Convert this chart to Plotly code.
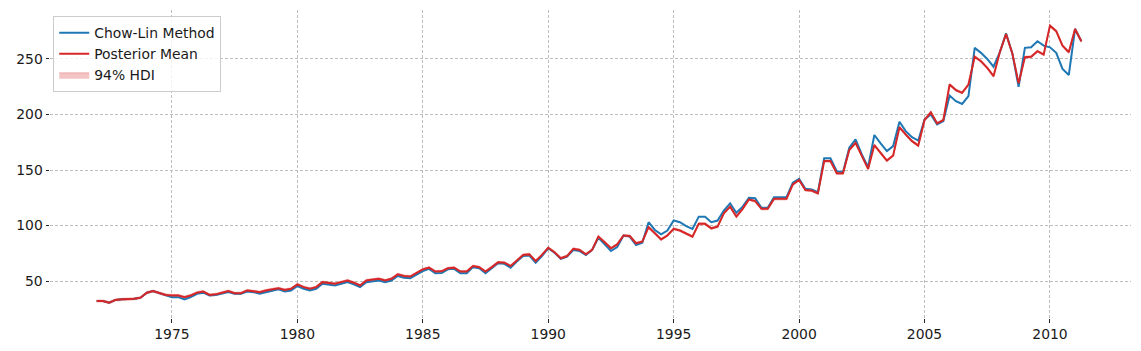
import plotly.graph_objects as go

start_year = 1972

# Posterior mean (red), quarterly 1972Q1 .. 2011Q2
posterior_mean = [
    32, 32, 30.5, 33,
    33.5, 33.5, 34, 35,
    39.5, 41, 39, 37.5,
    37, 37, 35.5, 37,
    39.5, 40.5, 37.5, 38,
    39.5, 41, 39, 39,
    41.5, 41, 40, 41.5,
    42.5, 43.5, 42, 43,
    47, 44.5, 43, 44.5,
    49, 48.5, 47.5, 49,
    50.5, 48.5, 46, 50.5,
    51, 52, 50.5, 52,
    56, 54.5, 54, 57,
    60.5, 62, 58.5, 58.7,
    61.5, 62, 58.5, 58.5,
    63.5, 62.5, 58.5, 62.5,
    66.8, 66.5, 63.5, 68.5,
    73.5, 74, 68, 73.5,
    80, 76, 70.5, 72.5,
    79, 78, 74, 78,
    90, 85, 79.5, 83,
    91, 90.5, 84, 85.5,
    98.5, 93, 87.5, 91,
    97, 95.5, 92.5, 90,
    101.5, 101.5, 97.5, 99,
    111, 117, 108, 115,
    123.5, 122, 115, 115,
    124, 124, 124, 137,
    141, 132, 131.5, 129,
    158, 158, 147, 147,
    168, 174.5, 162, 151,
    172.5, 165, 158.5, 163,
    188.5, 182, 176, 172,
    195, 202, 192, 195,
    227, 222, 219.5, 227,
    252, 248, 242, 234.5,
    256, 272.5, 255, 228,
    251.5, 252, 257, 254,
    280, 275, 262, 256,
    277, 266,
]

# Chow-Lin method (blue)
chow_lin = [
    32, 32, 30.5, 33,
    33.5, 33.5, 34, 35,
    39.5, 41, 39, 37.5,
    35.5, 35.5, 33.5, 35.5,
    38.5, 39.5, 37, 37.5,
    39, 40, 38.5, 38.5,
    40.5, 40, 38.5, 40,
    41.5, 42.5, 40.5, 41.5,
    45.5, 43, 41.5, 43,
    47.5, 47, 46, 47.5,
    49, 47, 44.5, 49,
    49.5, 50.5, 49, 50.5,
    54.5, 53, 52.5, 55.5,
    59, 61, 57, 57.2,
    60.5, 61, 57, 57,
    62.5, 61.5, 57, 61.5,
    66, 65.5, 62, 67.5,
    72.5, 73, 66.5, 72.5,
    79.5, 75.5, 70, 72,
    78, 77, 73.5, 78,
    89, 83, 77, 80.5,
    91, 90, 82.5, 84.5,
    103, 96, 92, 95.5,
    104.5, 103, 99.5, 97,
    108, 108, 103, 104.5,
    113.5, 120, 111.5, 117,
    125, 124.5, 116, 116,
    125.5, 125.5, 125.5, 138.5,
    142, 133, 132.5, 130,
    160.5, 160.5, 149, 148,
    170, 177.5, 164, 152.5,
    181.5, 174, 167, 171.5,
    193.5, 185, 179.5, 176.5,
    195.5, 200, 191, 194,
    217, 212, 209.5, 216.5,
    260, 255.5, 250, 243,
    256, 273, 255, 225,
    260, 260.5, 266, 262,
    260.5, 255.5, 241, 235.5,
    277, 266,
]

# 94% HDI bounds
hdi_lower = [
    31, 31, 29.5, 32,
    32.5, 32.5, 33, 34,
    38.5, 40, 38, 36.5,
    36, 36, 34.5, 36,
    38.5, 39.5, 36.5, 37,
    38.5, 40, 38, 38,
    40.5, 40, 39, 40.5,
    41.5, 42.5, 41, 42,
    46, 43.5, 42, 43.5,
    48, 47.5, 46.5, 48,
    49.5, 47.5, 45, 49.5,
    50, 51, 49.5, 51,
    55, 53.5, 53, 56,
    59.5, 61, 57.5, 57.7,
    60.5, 61, 57.5, 57.5,
    62.5, 61.5, 57.5, 61.5,
    65.8, 65.5, 62.5, 67.5,
    72.5, 73, 67, 72.5,
    79, 75, 69.5, 71.5,
    78, 77, 73, 77,
    89, 84, 78.5, 82,
    90, 89.5, 83, 84.5,
    97.5, 92, 86.5, 90,
    96, 94.5, 91.5, 89,
    100.5, 100.5, 96.5, 98,
    110, 116, 107, 114,
    122.5, 121, 114, 114,
    123, 123, 123, 136,
    140, 131, 130.5, 128,
    157, 157, 146, 146,
    167, 173.5, 161, 150,
    171.5, 164, 157.5, 162,
    187.5, 181, 175, 171,
    194, 201, 191, 194,
    226, 221, 218.5, 226,
    251, 247, 241, 233.5,
    255, 271.5, 254, 227,
    250.5, 251, 256, 253,
    279, 274, 261, 255,
    276, 265,
]

hdi_upper = [
    33, 33, 31.5, 34,
    34.5, 34.5, 35, 36,
    40.5, 42, 40, 38.5,
    38, 38, 36.5, 38,
    40.5, 41.5, 38.5, 39,
    40.5, 42, 40, 40,
    42.5, 42, 41, 42.5,
    43.5, 44.5, 43, 44,
    48, 45.5, 44, 45.5,
    50, 49.5, 48.5, 50,
    51.5, 49.5, 47, 51.5,
    52, 53, 51.5, 53,
    57, 55.5, 55, 58,
    61.5, 63, 59.5, 59.7,
    62.5, 63, 59.5, 59.5,
    64.5, 63.5, 59.5, 63.5,
    67.8, 67.5, 64.5, 69.5,
    74.5, 75, 69, 74.5,
    81, 77, 71.5, 73.5,
    80, 79, 75, 79,
    91, 86, 80.5, 84,
    92, 91.5, 85, 86.5,
    99.5, 94, 88.5, 92,
    98, 96.5, 93.5, 91,
    102.5, 102.5, 98.5, 100,
    112, 118, 109, 116,
    124.5, 123, 116, 116,
    125, 125, 125, 138,
    142, 133, 132.5, 130,
    159, 159, 148, 148,
    169, 175.5, 163, 152,
    173.5, 166, 159.5, 164,
    189.5, 183, 177, 173,
    196, 203, 193, 196,
    228, 223, 220.5, 228,
    253, 249, 243, 235.5,
    257, 273.5, 256, 229,
    252.5, 253, 258, 255,
    281, 276, 263, 257,
    278, 267,
]

x_ticks = [1975, 1980, 1985, 1990, 1995, 2000, 2005, 2010]
y_ticks = [50, 100, 150, 200, 250]

t = [start_year + q / 4 for q in range(len(posterior_mean))]

BLUE = "#1f77b4"
RED = "#d62728"
FONT = "DejaVu Sans"
FS = 13.9

fig = go.Figure()

# HDI band as closed polygon (upper forward, lower backward)
fig.add_trace(go.Scatter(
    x=t + t[::-1], y=hdi_upper + hdi_lower[::-1], mode="lines",
    line=dict(width=1, color="rgba(214,39,40,0.25)"),
    fill="toself", fillcolor="rgba(214,39,40,0.28)",
    name="94% HDI", legendgroup="c", legendrank=3, hoverinfo="skip",
))
fig.add_trace(go.Scatter(
    x=t, y=chow_lin, mode="lines", line=dict(color=BLUE, width=2),
    name="Chow-Lin Method", legendgroup="a", legendrank=1,
))
fig.add_trace(go.Scatter(
    x=t, y=posterior_mean, mode="lines", line=dict(color=RED, width=2),
    name="Posterior Mean", legendgroup="b", legendrank=2,
))

axis_common = dict(
    showline=False, zeroline=False,
    showgrid=True, gridcolor="#bdbdbd", gridwidth=0.8, griddash="3px,2px",
    ticks="outside", ticklen=3.5, tickwidth=0.8, tickcolor="#222222",
    tickfont=dict(family=FONT, size=FS, color="#1a1a1a"),
)

fig.update_xaxes(range=[1970.14, 2013.23], tickvals=x_ticks,
                 ticktext=[str(v) for v in x_ticks], **axis_common)
fig.update_yaxes(range=[16.7, 294.1], tickvals=y_ticks,
                 ticktext=[str(v) for v in y_ticks], **axis_common)

fig.update_layout(
    width=1141, height=351,
    margin=dict(l=50, r=10, t=10, b=33),
    plot_bgcolor="white", paper_bgcolor="white",
    font=dict(family=FONT, size=FS, color="#1a1a1a"),
    showlegend=True,
    legend=dict(
        x=0.003, y=0.98, xanchor="left", yanchor="top",
        bgcolor="rgba(255,255,255,0.8)", bordercolor="#cccccc", borderwidth=1,
        font=dict(family=FONT, size=FS, color="#1a1a1a"),
        tracegroupgap=3, itemwidth=30, traceorder="normal",
    ),
)

fig.write_html("out.html")
